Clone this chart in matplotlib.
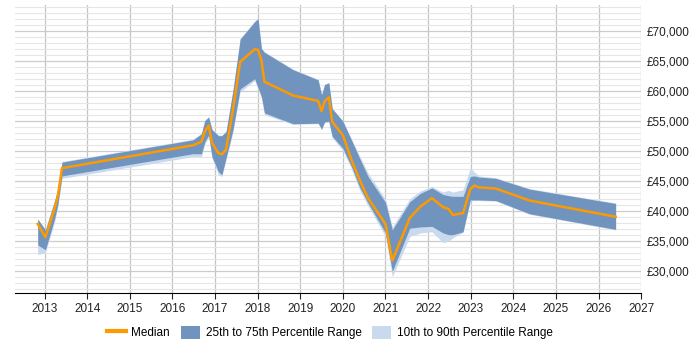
import matplotlib
matplotlib.use("Agg")
import matplotlib.pyplot as plt
from matplotlib.ticker import MultipleLocator, FuncFormatter
from matplotlib.patches import Patch
from matplotlib.lines import Line2D

plt.rcParams["font.family"] = ["Liberation Sans", "DejaVu Sans"]

# Sample dates (decimal years)
dates = [2012.84, 2013.02, 2013.23, 2013.31, 2013.41, 2016.48, 2016.68, 2016.76, 2016.85,
         2016.93, 2017.08, 2017.16, 2017.26, 2017.42, 2017.59, 2017.93, 2018.01, 2018.09,
         2018.16, 2018.83, 2019.42, 2019.50, 2019.57, 2019.67, 2019.75, 2020.00, 2020.20,
         2020.39, 2020.59, 2021.00, 2021.16, 2021.57, 2021.82, 2022.09, 2022.35, 2022.48,
         2022.58, 2022.82, 2022.99, 2023.08, 2023.19, 2023.59, 2024.38, 2026.40]

median = [37800, 35600, 40200, 42400, 47100, 50900, 51500, 53200, 54200,
          51300, 49600, 49400, 50200, 56800, 64800, 66900, 66800, 65000,
          61500, 59200, 58300, 56600, 58200, 58900, 54800, 52600, 48500,
          45200, 42100, 37800, 31700, 38800, 40700, 42100, 40600, 40300,
          39300, 39600, 43600, 44200, 43900, 43700, 41700, 39000]

p75 = [38600, 36800, 41500, 43500, 48100, 51800, 52800, 55000, 55600,
       53500, 52500, 52500, 53200, 60000, 68600, 71500, 72000, 67000,
       66400, 63500, 61800, 59300, 61000, 61300, 57000, 54900, 51800,
       48800, 45700, 41400, 36800, 41500, 42900, 43800, 42700, 42500,
       42400, 42400, 45700, 45800, 45600, 45400, 43600, 41200]

p25 = [34300, 33500, 38500, 41000, 45800, 49500, 49500, 51500, 52600,
       49000, 46500, 46000, 48800, 53500, 60300, 62000, 60500, 59000,
       56300, 54500, 54600, 53600, 54800, 54900, 52400, 50400, 47400,
       44000, 41300, 36300, 29900, 37100, 37300, 37400, 36300, 36000,
       36000, 36500, 41800, 41800, 41800, 41700, 39500, 36900]

p90 = [38700, 36900, 41600, 43600, 48200, 51900, 52900, 55100, 55700,
       53600, 52600, 52600, 53300, 60100, 68700, 71600, 72100, 67100,
       66500, 63600, 61900, 59400, 61100, 61400, 57100, 55000, 52000,
       49200, 46300, 41900, 37300, 42000, 43300, 44000, 43100, 43400,
       43100, 43500, 47100, 46500, 45800, 45500, 43700, 41300]

p10 = [32700, 33000, 38000, 40500, 45400, 49000, 49000, 51000, 52300,
       48700, 46000, 45700, 48500, 53000, 59800, 61700, 60300, 58800,
       56000, 54400, 54500, 53500, 54700, 54800, 52200, 50000, 47000,
       43500, 40800, 35700, 29000, 35700, 36300, 36500, 34700, 34900,
       35500, 36400, 41600, 41700, 41700, 41600, 39400, 36800]

orange = "#ff9900"
dark_band = "#7094bd"
light_band = "#c9daee"

fig = plt.figure(figsize=(7, 3.5), dpi=100)
ax = fig.add_axes([0.021, 0.163, 0.895, 0.823])

ax.fill_between(dates, p10, p90, color=light_band, lw=0)
ax.fill_between(dates, p25, p75, color=dark_band, lw=0)
ax.plot(dates, median, color=orange, lw=1.8)

ax.set_xlim(2012.3, 2027)
ax.set_ylim(26300, 74300)
ax.xaxis.set_major_locator(MultipleLocator(1))
ax.xaxis.set_major_formatter(FuncFormatter(lambda v, p: f"{int(round(v))}"))
ax.yaxis.set_major_locator(MultipleLocator(5000))
ax.yaxis.set_minor_locator(MultipleLocator(1000))
ax.yaxis.set_major_formatter(FuncFormatter(lambda v, p: f"£{int(v):,}"))
ax.yaxis.tick_right()

ax.grid(which="major", axis="x", color="#c4c4c4", lw=0.9)
ax.grid(which="major", axis="y", color="#cccccc", lw=0.9)
ax.grid(which="minor", axis="y", color="#e6e6e6", lw=0.8)
ax.set_axisbelow(True)

for s in ["top", "right", "left"]:
    ax.spines[s].set_visible(False)
ax.spines["bottom"].set_color("black")

ax.tick_params(axis="x", length=4, labelsize=8.5, colors="#222222")
ax.tick_params(axis="y", which="both", length=0, labelsize=8.5, colors="#222222", pad=4)

handles = [Line2D([0], [0], color=orange, lw=3),
           Patch(facecolor=dark_band, edgecolor="none"),
           Patch(facecolor=light_band, edgecolor="none")]
labels = ["Median", "25th to 75th Percentile Range", "10th to 90th Percentile Range"]
fig.legend(handles, labels, loc="center", bbox_to_anchor=(0.471, 0.05), ncol=3,
           frameon=False, fontsize=8.5, handlelength=1.6, handleheight=1.4,
           handletextpad=0.5, columnspacing=0.9)

fig.savefig("out.png", dpi=100)
